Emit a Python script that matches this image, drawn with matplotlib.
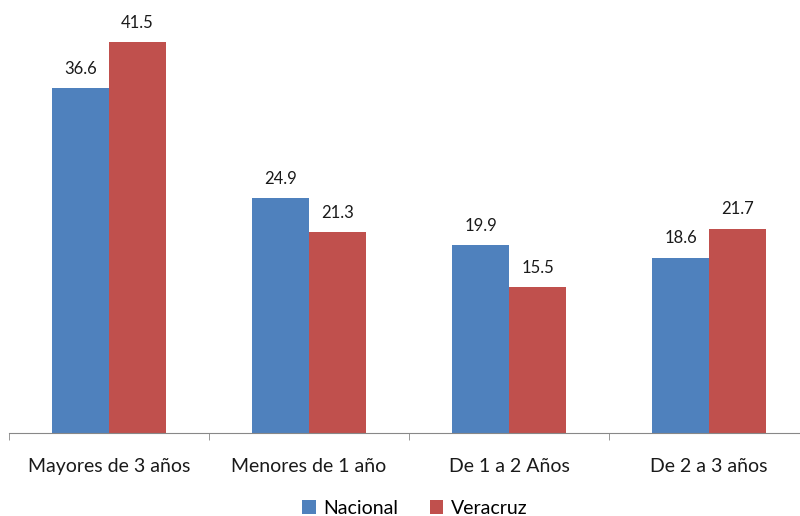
import matplotlib
matplotlib.use('Agg')
import matplotlib.pyplot as plt
import numpy as np

categories = ['Mayores de 3 años', 'Menores de 1 año', 'De 1 a 2 Años', 'De 2 a 3 años']
nacional = [36.6, 24.9, 19.9, 18.6]
veracruz = [41.5, 21.3, 15.5, 21.7]
series_names = ['Nacional', 'Veracruz']

plt.rcParams['font.family'] = ['Lato', 'DejaVu Sans']

fig = plt.figure(figsize=(8, 5.16), dpi=100)
ax = fig.add_axes([9 / 800, 1 - 433 / 516, 800 / 800, 424 / 516])

x = np.arange(len(categories))
w = 0.285
b1 = ax.bar(x - w / 2, nacional, w, color='#4f81bd', label=series_names[0])
b2 = ax.bar(x + w / 2, veracruz, w, color='#c0504d', label=series_names[1])

for bars, vals in ((b1, nacional), (b2, veracruz)):
    for r, v in zip(bars, vals):
        ax.annotate(f'{v:.1f}', (r.get_x() + r.get_width() / 2, v),
                    xytext=(0, 14), textcoords='offset points',
                    ha='center', va='center', fontsize=12, color='#1a1a1a')

ax.set_xlim(-0.5, 3.5)
ax.set_ylim(0, 45)
ax.set_yticks([])
for s in ['top', 'right', 'left']:
    ax.spines[s].set_visible(False)
ax.spines['bottom'].set_color('#888888')
ax.set_xticks(x)
ax.set_xticklabels(categories, fontsize=14, color='#1a1a1a')
ax.tick_params(axis='x', which='major', length=0, pad=18)
ax.set_xticks(np.arange(-0.5, 4, 1), minor=True)
ax.tick_params(axis='x', which='minor', length=5, color='#888888', direction='out')

fig.legend(handles=[b1, b2], loc='center', bbox_to_anchor=(415 / 800, 1 - 508 / 516),
           ncol=2, frameon=False, fontsize=14, handlelength=0.7, handleheight=0.7,
           handletextpad=0.4, columnspacing=1.6)

fig.savefig('out.png', dpi=100)
